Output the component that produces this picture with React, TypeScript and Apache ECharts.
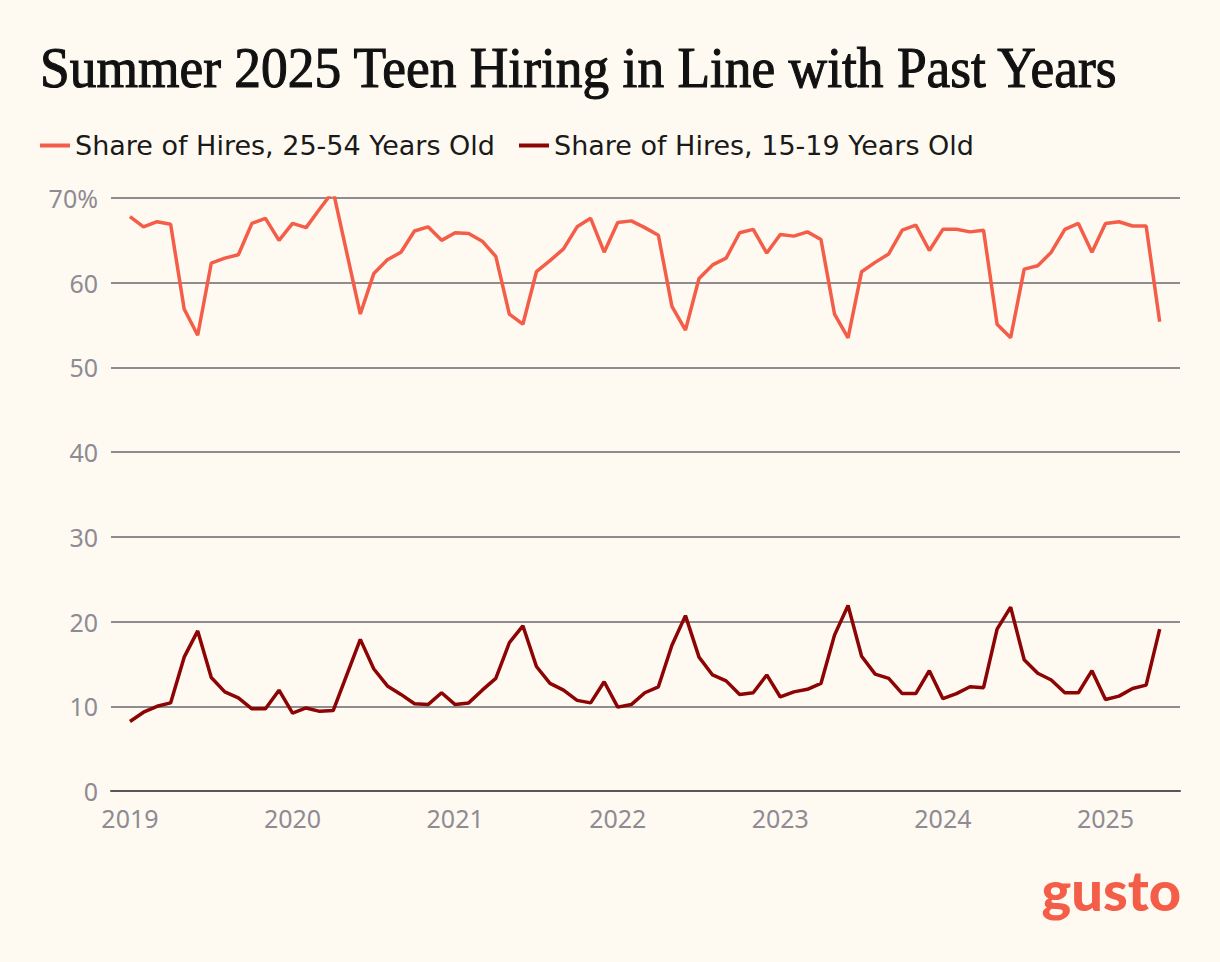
import React, { useEffect, useRef } from "react";
import * as echarts from "echarts";

const startYear = 2019;
const monthCount = 77;
const months: string[] = Array.from({ length: monthCount }, (_, i) =>
  `${startYear + Math.floor(i / 12)}-${String((i % 12) + 1).padStart(2, "0")}`
);
const yearTicks = [2019, 2020, 2021, 2022, 2023, 2024, 2025];

const share2554: (number | null)[] = [
  67.8, 66.6, 67.2, 66.9, 56.9, 53.8, 62.3, 62.9, 63.3, 67.0, 67.6, 65.0,
  67.0, 66.5, 68.7, 70.8, null, 56.3, 61.1, 62.7, 63.6, 66.1, 66.6, 65.0,
  65.9, 65.8, 64.9, 63.1, 56.3, 55.1, 61.3, 62.6, 64.0, 66.6, 67.6, 63.6,
  67.1, 67.3, 66.5, 65.6, 57.2, 54.4, 60.5, 62.1, 62.9, 65.9, 66.3, 63.5,
  65.7, 65.5, 66.0, 65.1, 56.3, 53.5, 61.3, 62.4, 63.4, 66.2, 66.8, 63.8,
  66.3, 66.3, 66.0, 66.2, 55.1, 53.5, 61.6, 62.0, 63.6, 66.3, 67.0, 63.6,
  67.0, 67.2, 66.7, 66.7, 55.4,
];

const share1519: (number | null)[] = [
  8.2, 9.3, 10.0, 10.4, 15.8, 18.9, 13.4, 11.7, 11.0, 9.7, 9.7, 11.9,
  9.2, 9.8, 9.4, 9.5, null, 17.9, 14.4, 12.4, 11.4, 10.3, 10.2, 11.6,
  10.2, 10.4, 11.9, 13.3, 17.5, 19.5, 14.7, 12.7, 11.9, 10.7, 10.4, 12.9,
  9.9, 10.2, 11.6, 12.3, 17.2, 20.7, 15.8, 13.7, 13.0, 11.4, 11.6, 13.7,
  11.1, 11.7, 12.0, 12.7, 18.4, 21.9, 15.9, 13.8, 13.3, 11.5, 11.5, 14.2,
  10.9, 11.5, 12.3, 12.2, 19.1, 21.7, 15.5, 13.9, 13.1, 11.6, 11.6, 14.2,
  10.8, 11.2, 12.1, 12.5, 19.1,
];

const seriesNames = ["Share of Hires, 25-54 Years Old", "Share of Hires, 15-19 Years Old"];
const titleText = "Summer 2025 Teen Hiring in Line with Past Years";

const monthIndex = (m: string) => {
  const [y, mo] = m.split("-").map(Number);
  return (y - startYear) * 12 + (mo - 1);
};

const SANS = "'Noto Sans', 'Open Sans', sans-serif";
const LEGEND_FONT = "'DejaVu Sans', 'Noto Sans', sans-serif";

export default function App() {
  const ref = useRef<HTMLDivElement>(null);
  useEffect(() => {
    if (!ref.current) return;
    const chart = echarts.init(ref.current, undefined, { renderer: "svg" });

    const titleFont = "57px 'Liberation Serif'";
    let scaleX = 0.9;
    try {
      const ctx = document.createElement("canvas").getContext("2d");
      if (ctx) {
        ctx.font = titleFont;
        const w = ctx.measureText(titleText).width;
        if (w > 0) scaleX = 1080 / w;
      }
    } catch (e) {}

    const toPairs = (arr: (number | null)[]) =>
      months.map((m, i) => [monthIndex(m), arr[i]]);

    chart.setOption({
      animation: false,
      backgroundColor: "#fefaf2",
      textStyle: { fontFamily: SANS },
      graphic: [
        {
          type: "text",
          x: 40,
          y: 68,
          scaleX,
          style: {
            text: titleText,
            font: titleFont,
            fill: "#111111",
            stroke: "#111111",
            lineWidth: 1.1,
            verticalAlign: "middle",
            align: "left",
          },
        },
        {
          type: "text",
          x: 1181,
          y: 889,
          style: {
            text: "gusto",
            font: "900 56px Lato, 'Noto Sans', sans-serif",
            fill: "#f45d48",
            align: "right",
            verticalAlign: "middle",
          },
        },
      ],
      legend: {
        left: 40,
        top: 132,
        padding: 0,
        icon: "rect",
        itemWidth: 30,
        itemHeight: 4,
        itemGap: 24,
        textStyle: { fontSize: 27, color: "#1a1a1a", fontFamily: LEGEND_FONT },
        data: seriesNames,
      },
      grid: { left: 111, right: 40, top: 198, bottom: 171, containLabel: false, outerBoundsMode: "none" },
      xAxis: {
        type: "value",
        min: -1.4,
        max: 77.5,
        splitLine: { show: false },
        axisTick: { show: false },
        axisLine: { show: true, lineStyle: { color: "#58565a", width: 2 } },
        axisLabel: {
          customValues: yearTicks.map((y) => (y - startYear) * 12),
          formatter: (v: number) => String(startYear + Math.round(v / 12)),
          color: "#8f8b93",
          fontSize: 25,
          fontFamily: SANS,
          margin: 14,
        },
      },
      yAxis: {
        type: "value",
        min: 0,
        max: 70,
        interval: 10,
        axisLine: { show: false },
        axisTick: { show: false },
        splitLine: { lineStyle: { color: "#8f8c90", width: 1.8 } },
        axisLabel: {
          formatter: (v: number) => (v === 70 ? "70%" : String(v)),
          color: "#8f8b93",
          fontSize: 25,
          fontFamily: SANS,
          margin: 13,
        },
      },
      series: [
        {
          name: seriesNames[0],
          type: "line",
          data: toPairs(share2554),
          connectNulls: true,
          showSymbol: false,
          symbol: "none",
          lineStyle: { color: "#f45d48", width: 3.5 },
          itemStyle: { color: "#f45d48" },
        },
        {
          name: seriesNames[1],
          type: "line",
          data: toPairs(share1519),
          connectNulls: true,
          showSymbol: false,
          symbol: "none",
          lineStyle: { color: "#8c0404", width: 3.5 },
          itemStyle: { color: "#8c0404" },
        },
      ],
    });
    return () => chart.dispose();
  }, []);
  return (
    <div
      ref={ref}
      style={{ position: "fixed", left: 0, top: 0, width: 1220, height: 962 }}
    />
  );
}
